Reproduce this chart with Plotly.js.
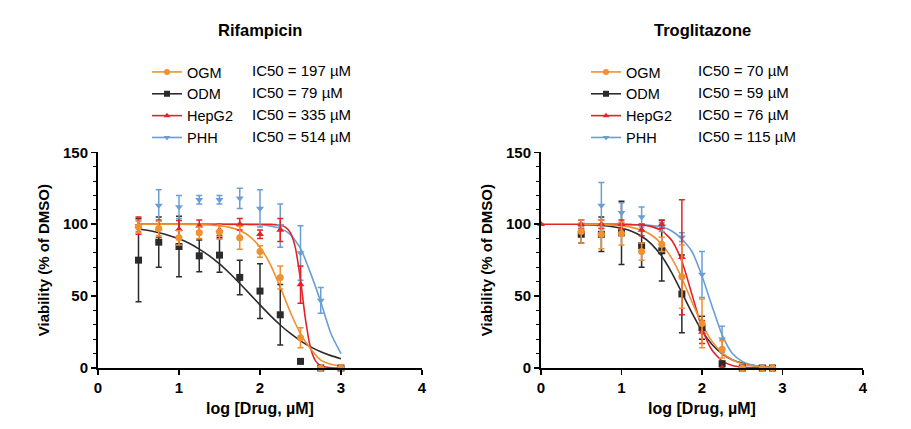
<!DOCTYPE html>
<html><head><meta charset="utf-8">
<script src="https://cdn.plot.ly/plotly-3.0.1.min.js"></script>
<style>html,body{margin:0;padding:0;background:#fff}#chart{width:911px;height:429px}</style>
</head><body><div id="chart"></div>
<script>
// ---------- Data (log concentration, % viability of DMSO) ----------
const seriesNames = ["OGM", "ODM", "HepG2", "PHH"];
const rifIC50 = ["IC50 = 197 µM", "IC50 = 79 µM", "IC50 = 335 µM", "IC50 = 514 µM"];
const troIC50 = ["IC50 = 70 µM", "IC50 = 59 µM", "IC50 = 76 µM", "IC50 = 115 µM"];

// Rifampicin measured points
const rifLogConc = [0.5, 0.75, 1, 1.25, 1.5, 1.75, 2, 2.25, 2.5, 2.75, 3];
const rifOGM      = [98, 97, 90.5, 94, 94.5, 90.5, 81, 63, 21, 0, 0];
const rifOGMErr   = [4, 5, 5, 4, 5, 8, 4, 8, 7, 0, 0];
const rifODM      = [75, 87.5, 84.5, 78, 78.5, 63, 53.5, 37, 4.6, 0, 0];
const rifODMErr   = [29, 17.5, 21, 11, 12, 12, 19, 21, 1, 0, 0];
const rifHepG2    = [99, 97, 96.5, 99, 96, 100, 93, 96, 58, 0, 0];
const rifHepG2Err = [6, 6, 6, 4, 4, 4, 3, 8, 13, 0, 0];
const rifPHH      = [99, 113, 112, 117, 117, 118, 111, 99, 80, 47, 0];
const rifPHHErr   = [4, 11, 8, 3, 3, 7, 13, 15, 19, 9, 0];

// Rifampicin fitted curves
const rifFitX = [0.5, 0.625, 0.75, 0.875, 1, 1.125, 1.25, 1.375, 1.5, 1.625, 1.75, 1.875, 2, 2.125, 2.25, 2.375, 2.5, 2.625, 2.75, 2.875, 3];
const rifFitOGM = [100, 100, 100, 100, 99.9, 99.8, 99.7, 99.4, 98.9, 97.8, 95.6, 91.4, 84, 72.2, 56.2, 38.8, 23.8, 13.4, 5.5, 2.6, 1.2];
const rifFitODM = [96.7, 95.6, 94.1, 92.2, 89.8, 86.7, 82.7, 78, 72.4, 65.9, 58.8, 51.4, 43.9, 36.6, 29.9, 24, 18.9, 14.7, 11.3, 8.6, 6.5];
const rifFitPHH = [100, 100, 100, 100, 100, 100, 100, 100, 100, 99.9, 99.8, 99.7, 99.6, 98.8, 97.1, 92.8, 83.2, 65.8, 46, 24, 10];
const rifFitHepG2X = [0.5, 1, 1.5, 2, 2.125, 2.25, 2.3125, 2.375, 2.4375, 2.5, 2.5625, 2.625, 2.6875, 2.75, 2.875, 3];
const rifFitHepG2  = [100, 100, 100, 100, 99.9, 99.4, 98, 94.1, 83.4, 61.3, 33.4, 13.7, 4.8, 1.6, 0.2, 0];

// Troglitazone measured points
const troLogConc = [0.5, 0.75, 1, 1.25, 1.5, 1.75, 2, 2.25, 2.5, 2.75, 2.875];
const troOGM      = [95, 93, 93.5, 81, 86, 63.5, 31, 13, 0, 0, 0];
const troOGMErr   = [8, 10, 8, 6, 5, 22, 17, 6, 0, 0, 0];
const troODM      = [93, 93, 94, 85, 81.5, 51.5, 28, 3, 0, 0, 0];
const troODMErr   = [6, 12, 22, 15, 21, 27, 8, 1, 0, 0, 0];
const troHepG2X   = [0, 0.5, 0.75, 1, 1.25, 1.5, 1.75, 2, 2.25, 2.5, 2.75, 2.875];
const troHepG2    = [100, 100, 100, 100, 96, 100, 77, 25, 0, 0, 0, 0];
const troHepG2Err = [0, 3, 3, 3, 4, 3, 40, 8, 0, 0, 0, 0];
const troPHH      = [100, 113, 108, 105, 98, 91, 65, 20, 0, 0, 0];
const troPHHErr   = [3, 16, 7, 7, 3, 3, 16, 9, 0, 0, 0];

// Troglitazone fitted curves
const troFitX = [0.5, 0.75, 1, 1.125, 1.25, 1.375, 1.5, 1.625, 1.75, 1.875, 2, 2.125, 2.25, 2.375, 2.5, 2.625, 2.75, 2.875];
const troFitOGM = [99.9, 99.7, 98.9, 97.8, 95.9, 92.3, 86.1, 76.2, 62.4, 46, 30.6, 18.5, 10.5, 5.7, 3, 1.6, 0.8, 0.4];
const troFitODM = [99.7, 99.1, 97.2, 95.1, 91.6, 86, 77.7, 66.2, 52.4, 38.3, 25.8, 16.4, 9.9, 5.8, 3.4, 1.9, 1.1, 0.6];
const troFitPHH = [100, 100, 99.9, 99.8, 99.6, 99, 98, 95.3, 89.5, 81, 64, 43, 23, 10.3, 4.6, 2, 0.9, 0.4];
const troFitHepG2X = [0, 0.5, 1, 1.125, 1.25, 1.375, 1.5, 1.625, 1.75, 1.875, 2, 2.125, 2.25, 2.375, 2.5, 2.625, 2.75, 2.875];
const troFitHepG2  = [100, 100, 99.9, 99.7, 99.4, 98.3, 95.5, 88.7, 74.2, 51.2, 27.7, 12.3, 4.9, 1.8, 0.7, 0.25, 0.1, 0];

// ---------- Styles ----------
const colors = {OGM: "#F0902E", ODM: "#2B2B2B", HepG2: "#E3232A", PHH: "#6A9FD6"};
const symbols = {OGM: "circle", ODM: "square", HepG2: "triangle-up", PHH: "triangle-down"};
const FONT = "Liberation Sans, Arial, sans-serif";

function curve(x, y, name, xa, ya) {
  return {x: x, y: y, xaxis: xa, yaxis: ya, mode: "lines", type: "scatter",
    line: {color: colors[name], width: 1.6, shape: "spline", smoothing: 0.6},
    showlegend: false, hoverinfo: "skip"};
}
function points(x, y, e, name, xa, ya) {
  return {x: x, y: y, xaxis: xa, yaxis: ya, mode: "markers", type: "scatter", name: name,
    cliponaxis: false,
    marker: {color: colors[name], symbol: symbols[name], size: 7},
    error_y: {type: "data", array: e, visible: true, color: colors[name], thickness: 1.5, width: 3},
    showlegend: false};
}
function legendEntry(name, legend, xa, ya) {
  return {x: [null], y: [null], xaxis: xa, yaxis: ya, mode: "lines+markers", type: "scatter",
    name: name, legend: legend,
    line: {color: colors[name], width: 1.6},
    marker: {color: colors[name], symbol: symbols[name], size: 6}};
}

const traces = [
  curve(rifFitX, rifFitODM, "ODM", "x", "y"),
  curve(rifFitX, rifFitPHH, "PHH", "x", "y"),
  curve(rifFitHepG2X, rifFitHepG2, "HepG2", "x", "y"),
  curve(rifFitX, rifFitOGM, "OGM", "x", "y"),
  points(rifLogConc, rifODM, rifODMErr, "ODM", "x", "y"),
  points(rifLogConc, rifPHH, rifPHHErr, "PHH", "x", "y"),
  points(rifLogConc, rifHepG2, rifHepG2Err, "HepG2", "x", "y"),
  points(rifLogConc, rifOGM, rifOGMErr, "OGM", "x", "y"),

  curve(troFitX, troFitODM, "ODM", "x2", "y2"),
  curve(troFitX, troFitPHH, "PHH", "x2", "y2"),
  curve(troFitHepG2X, troFitHepG2, "HepG2", "x2", "y2"),
  curve(troFitX, troFitOGM, "OGM", "x2", "y2"),
  points(troLogConc, troODM, troODMErr, "ODM", "x2", "y2"),
  points(troLogConc, troPHH, troPHHErr, "PHH", "x2", "y2"),
  points(troHepG2X, troHepG2, troHepG2Err, "HepG2", "x2", "y2"),
  points(troLogConc, troOGM, troOGMErr, "OGM", "x2", "y2")
];
seriesNames.forEach(n => traces.push(legendEntry(n, "legend", "x", "y")));
seriesNames.forEach(n => traces.push(legendEntry(n, "legend2", "x2", "y2")));

const W = 911, H = 429;
const px = v => v / W, py = v => 1 - v / H;

function xAxis(domain, anchor) {
  return {domain: domain, anchor: anchor, range: [0, 4], dtick: 1, tick0: 0,
    showgrid: false, zeroline: false, showline: true, linecolor: "#000", linewidth: 2,
    ticks: "outside", ticklen: 5, tickwidth: 1.5, tickcolor: "#000",
    tickfont: {family: FONT, size: 15, color: "#000", weight: "bold"},
    title: {text: "log [Drug, µM]", font: {family: FONT, size: 16, color: "#000", weight: "bold"}, standoff: 8},
    automargin: false, fixedrange: true};
}
function yAxis(domain, anchor) {
  return {domain: domain, anchor: anchor, range: [0, 150], tickvals: [0, 50, 100, 150],
    showgrid: false, zeroline: false, showline: true, linecolor: "#000", linewidth: 2,
    ticks: "outside", ticklen: 5, tickwidth: 1.5, tickcolor: "#000",
    minor: {dtick: 10, ticks: "outside", ticklen: 3, tickwidth: 1, tickcolor: "#000", showgrid: false},
    tickfont: {family: FONT, size: 15, color: "#000", weight: "bold"},
    title: {text: "Viability (% of DMSO)", font: {family: FONT, size: 15, color: "#000", weight: "bold"}, standoff: 10},
    automargin: false, fixedrange: true};
}
const yDom = [(H - 368) / H, (H - 152.3) / H];

const legendFont = {family: FONT, size: 14.5, color: "#000"};
const layout = {
  width: W, height: H,
  margin: {l: 0, r: 0, t: 0, b: 0},
  paper_bgcolor: "#fff", plot_bgcolor: "#fff",
  showlegend: true,
  xaxis: xAxis([px(98), px(422)], "y"),
  yaxis: yAxis(yDom, "x"),
  xaxis2: xAxis([px(541), px(863)], "y2"),
  yaxis2: yAxis(yDom, "x2"),
  legend: {x: px(147), y: py(56), xanchor: "left", yanchor: "top", font: legendFont,
    bgcolor: "rgba(0,0,0,0)", borderwidth: 0, tracegroupgap: 0},
  legend2: {x: px(586), y: py(56), xanchor: "left", yanchor: "top", font: legendFont,
    bgcolor: "rgba(0,0,0,0)", borderwidth: 0, tracegroupgap: 0},
  annotations: []
};
const titleFont = {family: FONT, size: 16.5, color: "#000", weight: "bold"};
layout.annotations.push({text: "Rifampicin", x: px(260), y: py(30), xref: "paper", yref: "paper",
  xanchor: "center", yanchor: "middle", showarrow: false, font: titleFont});
layout.annotations.push({text: "Troglitazone", x: px(702), y: py(30), xref: "paper", yref: "paper",
  xanchor: "center", yanchor: "middle", showarrow: false, font: titleFont});
const rowY = [70.7, 92.5, 114.3, 136.1];
const icFont = {family: FONT, size: 15, color: "#000"};
rifIC50.forEach((t, i) => layout.annotations.push({text: t, x: px(250), y: py(rowY[i]), xref: "paper", yref: "paper",
  xanchor: "left", yanchor: "middle", showarrow: false, font: icFont}));
troIC50.forEach((t, i) => layout.annotations.push({text: t, x: px(696), y: py(rowY[i]), xref: "paper", yref: "paper",
  xanchor: "left", yanchor: "middle", showarrow: false, font: icFont}));

Plotly.newPlot("chart", traces, layout, {staticPlot: true, displayModeBar: false});
</script>
</body></html>
